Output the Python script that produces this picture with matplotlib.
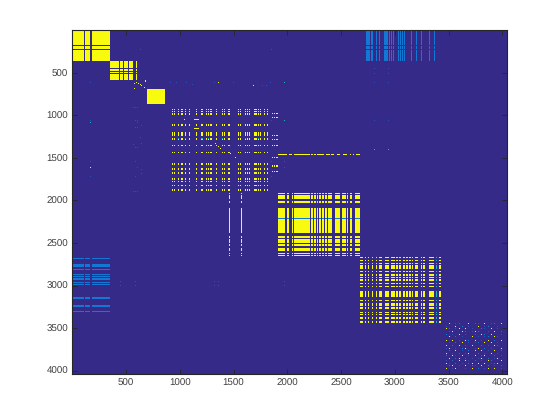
import numpy as np
import matplotlib
matplotlib.use('Agg')
import matplotlib.pyplot as plt
from matplotlib.colors import ListedColormap

# (inicio, fin) de cada banda
a_cols = [(0, 108), (118, 127), (133, 164), (183, 350)]
a_rows = [(0, 172), (184, 223), (235, 360)]
b_cols = [(350, 434), (444, 471), (481, 518), (527, 564), (592, 601)]
b_rows = [(360, 443), (455, 478), (490, 502), (513, 584)]
c_cols = [(695, 862)]
c_rows = [(690, 866)]
ur_cols = [(2732, 2769), (2778, 2788), (2816, 2825), (2853, 2862), (2899, 2936), (2946, 2955),
           (2964, 2974), (2983, 2992), (3029, 3039), (3048, 3057), (3067, 3076), (3085, 3095),
           (3150, 3160), (3197, 3206), (3243, 3253), (3318, 3327), (3364, 3374)]
ll_rows = [(2677, 2688), (2747, 2782), (2806, 2818), (2865, 2877), (2888, 2900), (2912, 2935),
           (2959, 2971), (2982, 2994), (3135, 3159), (3229, 3253), (3300, 3312)]
d_cols = [(927, 936), (946, 955), (983, 992), (1011, 1029), (1048, 1057), (1085, 1095), (1150, 1160),
          (1197, 1215), (1243, 1253), (1262, 1271), (1280, 1299), (1336, 1346), (1392, 1401),
          (1411, 1420), (1448, 1467), (1541, 1550), (1560, 1569), (1606, 1615), (1625, 1634),
          (1643, 1653), (1690, 1699), (1708, 1718), (1727, 1736), (1746, 1755), (1783, 1792),
          (1811, 1829)]
d_rows = [(925, 937), (948, 960), (972, 995), (1101, 1125), (1195, 1242), (1266, 1289), (1348, 1360),
          (1431, 1442), (1560, 1583), (1619, 1642), (1666, 1689), (1736, 1760), (1772, 1783),
          (1819, 1830), (1866, 1889)]
d_cyan_cols = [(983, 992), (1048, 1057), (1197, 1215), (1262, 1271), (1392, 1401), (1606, 1615), (1727, 1736)]
d_cyan_rows = [(1266, 1277)]
d_extra_cols = [(1132, 1178)]
d_extra_rows = [(1042, 1054), (1150, 1162)]
dr_cols = [(1858, 1867), (1876, 1885), (1895, 1913)]
dr_rows = [(973, 984), (1020, 1031), (1231, 1243), (1278, 1290), (1349, 1360), (1490, 1502), (1584, 1608), (1655, 1667)]
line_cols = [(1913, 1969), (1978, 2006), (2016, 2034), (2053, 2202), (2211, 2230), (2248, 2258),
             (2267, 2276), (2285, 2304), (2313, 2332), (2351, 2360), (2369, 2388), (2406, 2425),
             (2453, 2490), (2518, 2546), (2583, 2592), (2611, 2620), (2630, 2667)]
line_rows = [(1461, 1473)]
v_cols = [(1462, 1472), (1574, 1584)]
e_cols = [(1914, 1979), (1998, 2016), (2035, 2044), (2053, 2202), (2211, 2230), (2239, 2258),
          (2267, 2277), (2286, 2304), (2314, 2332), (2342, 2360), (2370, 2388), (2397, 2407),
          (2435, 2490), (2500, 2537), (2546, 2556), (2583, 2593), (2621, 2667)]
e_rows = [(1912, 1924), (1935, 1982), (2006, 2029), (2088, 2382), (2417, 2441), (2453, 2500),
          (2512, 2535), (2559, 2594), (2617, 2629), (2641, 2653)]
e_blue_rows = [(2206, 2218)]
f_cols = [(2667, 2695), (2714, 2732), (2742, 2751), (2779, 2797), (2816, 2825), (2853, 2872),
          (2900, 2946), (2956, 2965), (2974, 2993), (3011, 3021), (3030, 3049), (3076, 3095),
          (3104, 3114), (3132, 3142), (3160, 3169), (3179, 3207), (3235, 3244), (3262, 3281),
          (3318, 3365), (3411, 3430)]
f_cyan_cols = [(3383, 3393)]
f_rows = [(2664, 2676), (2699, 2711), (2734, 2746), (2758, 2805), (2828, 2840), (2864, 2887),
          (2899, 2911), (2923, 2946), (2970, 2981), (3005, 3017), (3064, 3134), (3169, 3181),
          (3205, 3240), (3252, 3275), (3311, 3322), (3334, 3346), (3369, 3393), (3416, 3440)]

# puntos sueltos: x, y
blue_x = [630, 1848, 170, 911, 967, 1060, 1116, 1321, 1497, 1841, 1767, 1804, 567, 586, 604, 170, 170,
          586, 604, 604, 642, 586, 604, 632, 567, 586, 604, 642, 170, 170, 586, 604, 642, 642, 586,
          567, 586, 604, 2806, 2936, 2806, 2936, 2806, 2936, 1969, 2806, 2936, 1969, 2806, 2936, 1969,
          1848, 1848, 1848, 447, 447, 587, 587, 1321, 1321, 1358, 1358, 1972, 1972]
blue_y = [223, 223, 612, 612, 612, 612, 635, 612, 612, 612, 647, 647, 905, 905, 905, 1055, 1078,
          1055, 1055, 1078, 1117, 1141, 1141, 1258, 1341, 1376, 1376, 1329, 1540, 1717, 1540, 1611, 1635, 1681, 1717,
          1893, 1893, 1893, 447, 447, 506, 506, 612, 612, 1059, 1059, 1059, 1541, 1400, 1400, 1612,
          1059, 1541, 1717, 2947, 2994, 2947, 2994, 2947, 2994, 2947, 2994, 2947, 2994]
cyan_x = [1969, 1971, 2806, 2936, 170, 1969]
cyan_y = [612, 612, 1400, 1400, 1078, 1059]
yellow_x = [1358, 1683, 574, 592, 611, 629, 639, 676, 676, 574, 667, 1039, 1327, 1358, 1374, 1467, 1521, 170]
yellow_y = [612, 647, 619, 607, 619, 631, 643, 584, 596, 678, 666, 1042, 1329, 1368, 1391, 1450, 1490, 1611]

# bloque disperso: 0 fondo, 1 azul, 2 cian, 3 amarillo
g_x = [3470, 3500, 3530, 3560, 3590, 3620, 3650, 3680, 3710, 3740, 3770, 3800, 3830, 3860, 3890, 3920, 3950, 3985]
g_y = [3445, 3475, 3505, 3535, 3565, 3595, 3640, 3670, 3700, 3730, 3760, 3790, 3820, 3850, 3880, 3910, 3940, 3975]
g_cells = ['030120030210301203',
           '100302010030120010',
           '320130301002103010',
           '013003201320010302',
           '201030100103203001',
           '030201003010120310',
           '303010320301030203',
           '010203010120303010',
           '302030103002010320',
           '130102300130201003',
           '020301020303010302',
           '301020130020103010',
           '203103010302300201',
           '030230201013020130',
           '102030310201032003',
           '310201023030301230',
           '023010302103020102',
           '301300103020130301']

tick_vals = [500, 1000, 1500, 2000, 2500, 3000, 3500, 4000]
colores = ['#352A87', '#2A4FBF', '#1377D4', '#20B4B4', '#F9FB0E']

limite = 4040
nx, ny = 434, 344
m = np.zeros((ny, nx), dtype=int)

def pinta(cols, rows, valor):
    for x0, x1 in cols:
        i0 = int(round(x0 / limite * nx))
        i1 = max(i0 + 1, int(round(x1 / limite * nx)))
        for y0, y1 in rows:
            j0 = int(round(y0 / limite * ny))
            j1 = max(j0 + 1, int(round(y1 / limite * ny)))
            m[j0:j1, i0:i1] = valor

def pinta_puntos(xs, ys, valor):
    for x, y in zip(xs, ys):
        pinta([(x, x)], [(y, y)], valor)

pinta(ur_cols, a_rows, 2)
pinta(a_cols, ll_rows, 2)
pinta(a_cols, a_rows, 4)
pinta(b_cols, b_rows, 4)
pinta(c_cols, c_rows, 4)
pinta(d_cols, d_rows, 4)
pinta(d_cyan_cols, d_cyan_rows, 3)
pinta(d_extra_cols, d_extra_rows, 4)
pinta(dr_cols, dr_rows, 4)
pinta(line_cols, line_rows, 4)
pinta(v_cols, e_rows, 4)
pinta(e_cols, e_rows, 4)
pinta(e_cols, e_blue_rows, 2)
pinta(f_cols, f_rows, 4)
pinta(f_cyan_cols, f_rows, 3)
pinta_puntos(blue_x, blue_y, 1)
pinta_puntos(cyan_x, cyan_y, 3)
pinta_puntos(yellow_x, yellow_y, 4)

for j, fila in enumerate(g_cells):
    for i, c in enumerate(fila):
        if c != '0':
            pinta_puntos([g_x[i]], [g_y[j]], int(c) + (1 if c == '3' else 0))

plt.rcParams['font.family'] = ['Liberation Sans', 'DejaVu Sans']
plt.rcParams['text.hinting'] = 'none'

fig = plt.figure(figsize=(5.6, 4.2), dpi=100)
ax = fig.add_axes([72.3 / 560, 1 - 374 / 420, 434.3 / 560, 343.7 / 420])
ax.imshow(m, cmap=ListedColormap(colores), vmin=0, vmax=4, interpolation='nearest',
          extent=(0, limite, limite, 0), aspect='auto')
ax.set_xticks(tick_vals)
ax.set_yticks(tick_vals)
ax.tick_params(direction='in', length=3.6, width=0.6, color='#262626', labelcolor='#404040',
               labelsize=7, top=True, right=True, pad=3)
for s in ax.spines.values():
    s.set_linewidth(0.8)
    s.set_color('#262626')

plt.savefig('out.png', dpi=100)
